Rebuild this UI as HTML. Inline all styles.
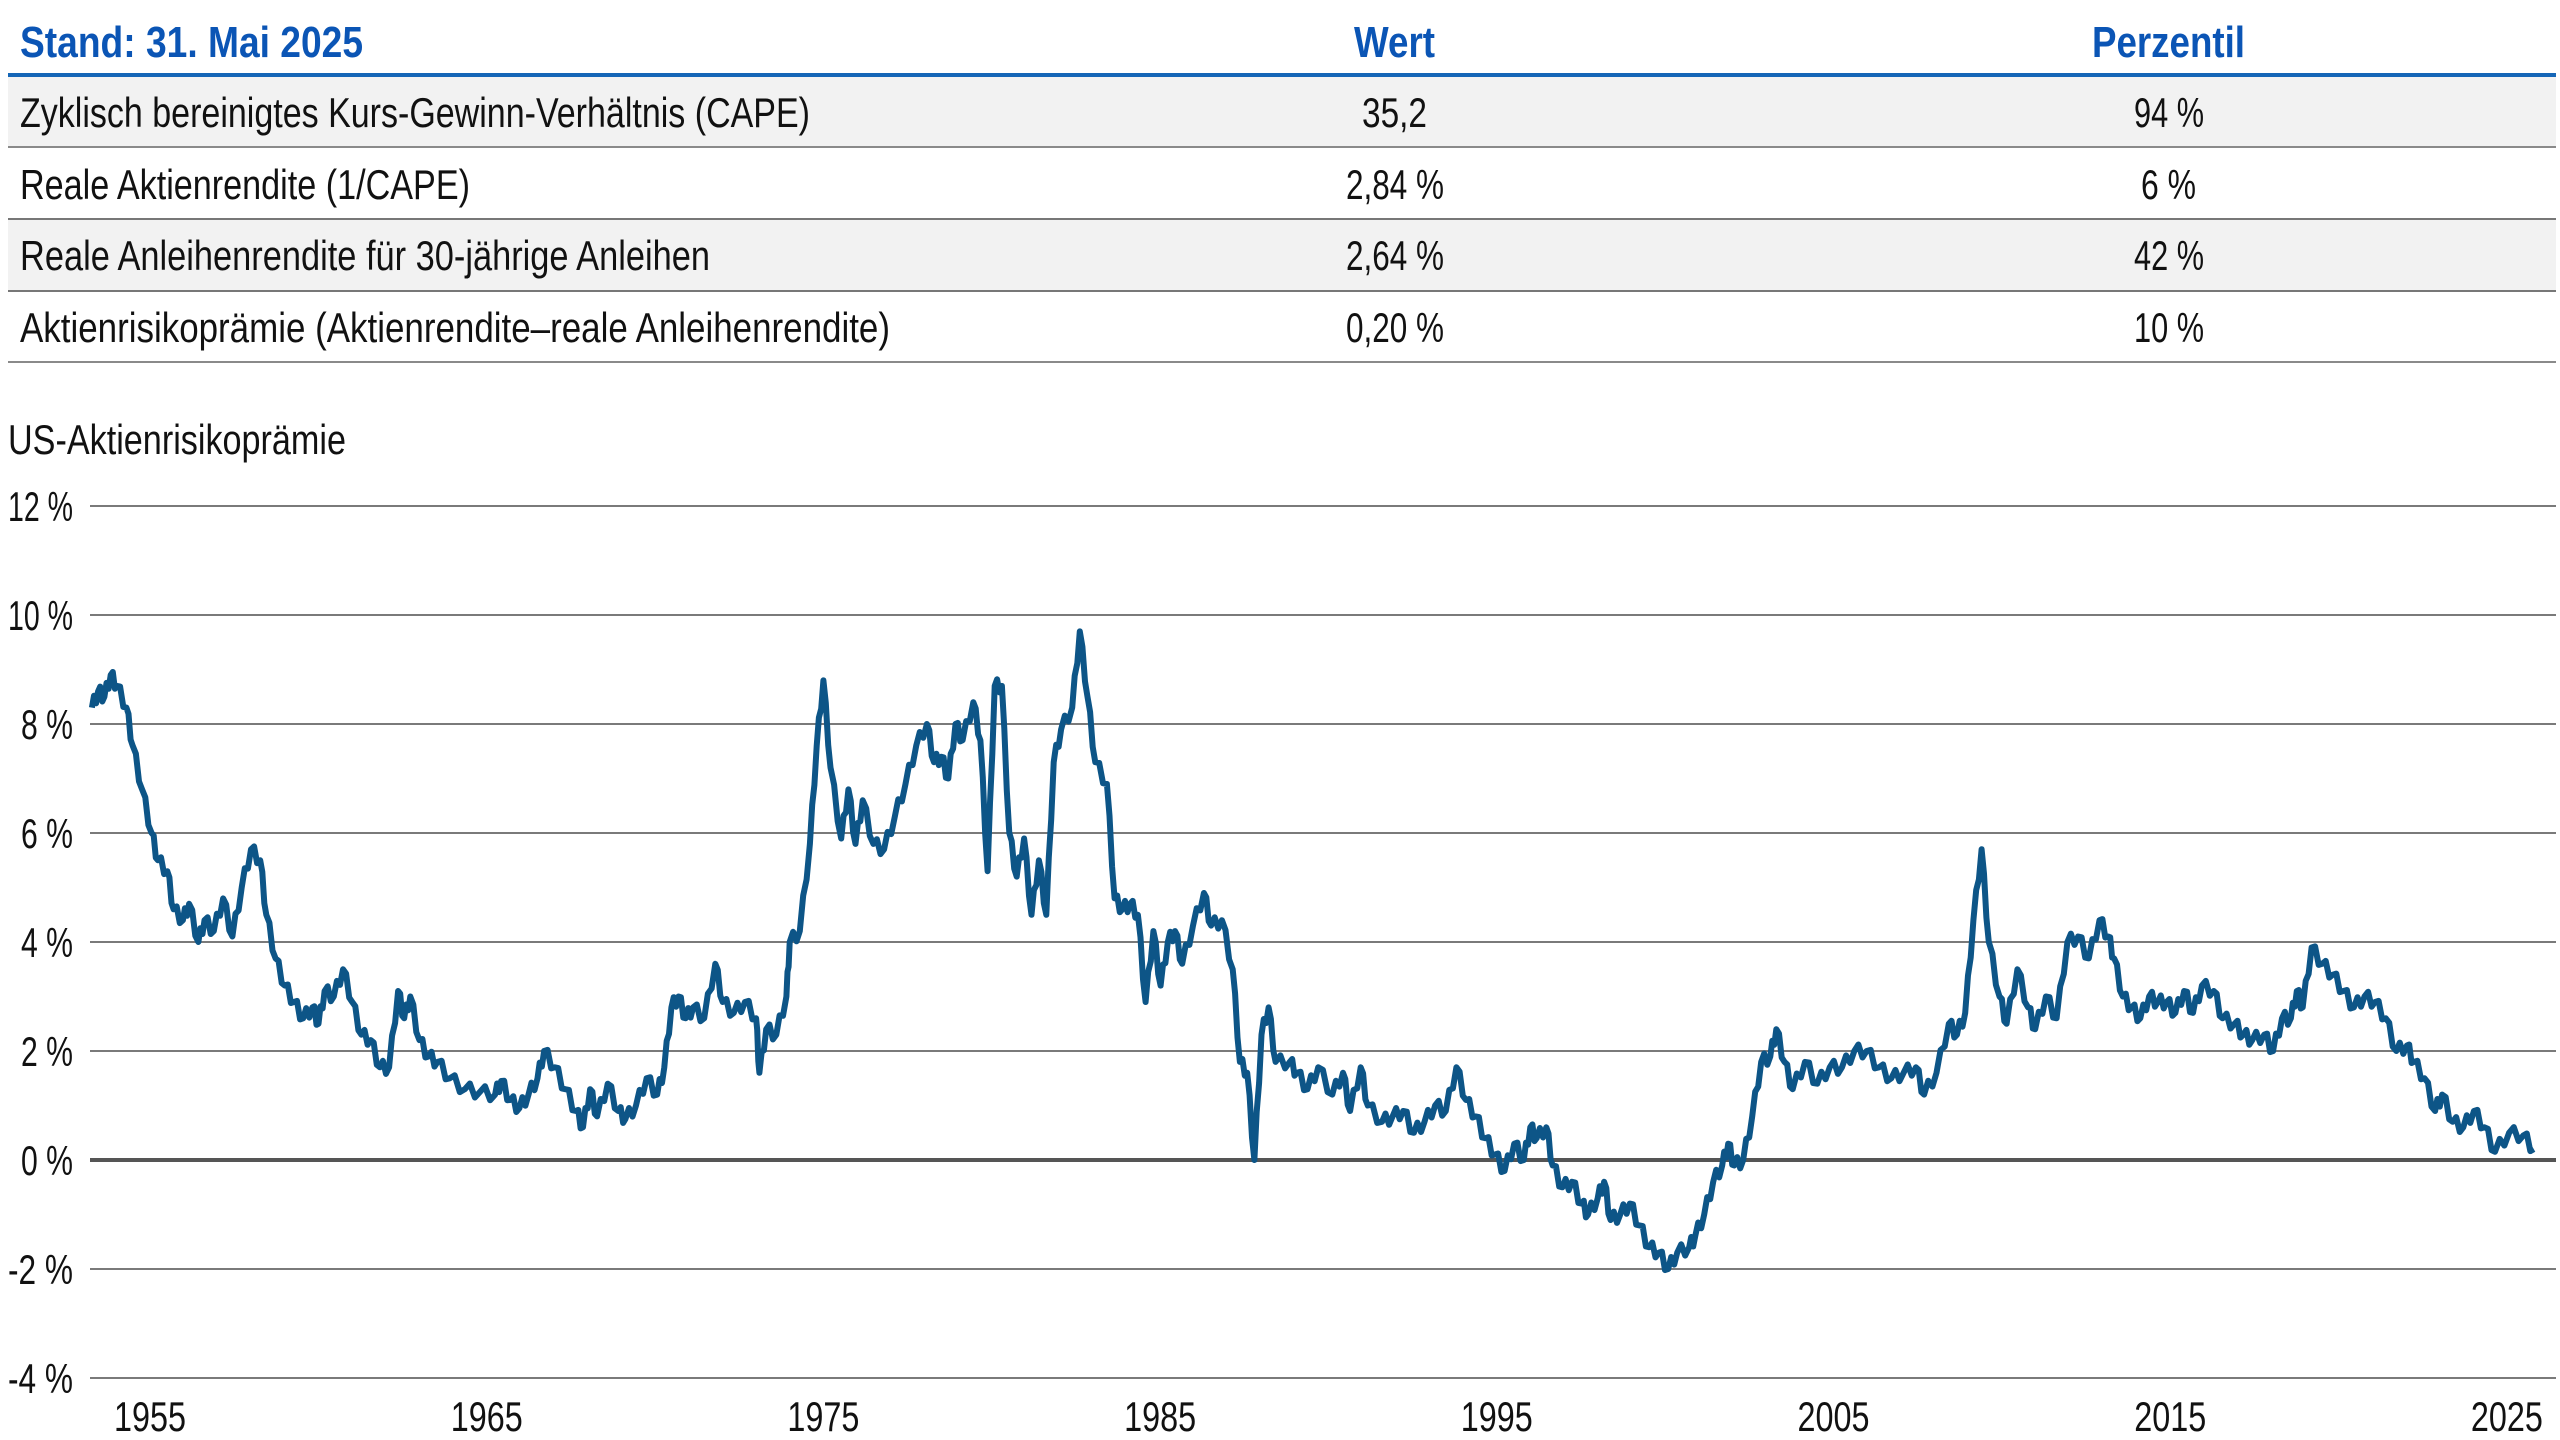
<!DOCTYPE html>
<html><head><meta charset="utf-8"><style>
html,body{margin:0;padding:0;background:#fff;width:2560px;height:1440px;overflow:hidden}
svg{display:block}
text{font-family:"Liberation Sans",sans-serif;}
</style></head><body>
<svg id="s" width="2560" height="1440" viewBox="0 0 2560 1440" xmlns="http://www.w3.org/2000/svg">
<rect x="8" y="76" width="2548" height="71" fill="#f2f2f2"/>
<rect x="8" y="220" width="2548" height="71" fill="#f2f2f2"/>
<line x1="8" y1="75" x2="2556" y2="75" stroke="#1566b7" stroke-width="4"/>
<line x1="8" y1="147" x2="2556" y2="147" stroke="#8a8a8a" stroke-width="2"/>
<line x1="8" y1="219" x2="2556" y2="219" stroke="#777" stroke-width="2"/>
<line x1="8" y1="291" x2="2556" y2="291" stroke="#777" stroke-width="2"/>
<line x1="8" y1="362" x2="2556" y2="362" stroke="#8a8a8a" stroke-width="2"/>
<g fill="#0b55b5" font-weight="bold" font-size="44">
<text x="20" y="57" textLength="343" lengthAdjust="spacingAndGlyphs">Stand: 31. Mai 2025</text>
<text x="1354" y="57" textLength="81" lengthAdjust="spacingAndGlyphs">Wert</text>
<text x="2092" y="57" textLength="153" lengthAdjust="spacingAndGlyphs">Perzentil</text>
</g>
<g fill="#111" font-size="42">
<text x="20" y="127" textLength="790" lengthAdjust="spacingAndGlyphs">Zyklisch bereinigtes Kurs-Gewinn-Verhältnis (CAPE)</text>
<text x="20" y="199" textLength="450" lengthAdjust="spacingAndGlyphs">Reale Aktienrendite (1/CAPE)</text>
<text x="20" y="270" textLength="690" lengthAdjust="spacingAndGlyphs">Reale Anleihenrendite für 30-jährige Anleihen</text>
<text x="20" y="342" textLength="870" lengthAdjust="spacingAndGlyphs">Aktienrisikoprämie (Aktienrendite–reale Anleihenrendite)</text>
<text x="1362" y="127" textLength="65" lengthAdjust="spacingAndGlyphs">35,2</text>
<text x="1346" y="199" textLength="98" lengthAdjust="spacingAndGlyphs">2,84 %</text>
<text x="1346" y="270" textLength="98" lengthAdjust="spacingAndGlyphs">2,64 %</text>
<text x="1346" y="342" textLength="98" lengthAdjust="spacingAndGlyphs">0,20 %</text>
<text x="2134" y="127" textLength="70" lengthAdjust="spacingAndGlyphs">94 %</text>
<text x="2141" y="199" textLength="55" lengthAdjust="spacingAndGlyphs">6 %</text>
<text x="2134" y="270" textLength="70" lengthAdjust="spacingAndGlyphs">42 %</text>
<text x="2134" y="342" textLength="70" lengthAdjust="spacingAndGlyphs">10 %</text>
<text x="8" y="454" textLength="338" lengthAdjust="spacingAndGlyphs">US-Aktienrisikoprämie</text>
</g>
<g id="grid"></g>
<g id="lab" fill="#111" font-size="42" text-anchor="end"></g>
<g fill="#111" font-size="42" text-anchor="middle" id="xl"></g>
<path id="ln" fill="none" stroke="#0d5587" stroke-width="6" stroke-linejoin="round"/>
</svg>
<script>
var NS="http://www.w3.org/2000/svg";
function Y(v){return 1160-v*54.5;}
function X(y){return 150+(y-1955)*33.67;}
var g=document.getElementById('grid'),lab=document.getElementById('lab'),xl=document.getElementById('xl');
for(var v=-4;v<=12;v+=2){
 var l=document.createElementNS(NS,'line');
 l.setAttribute('x1',90);l.setAttribute('x2',2556);l.setAttribute('y1',Y(v));l.setAttribute('y2',Y(v));
 l.setAttribute('stroke',v==0?'#555':'#7a7a7a');l.setAttribute('stroke-width',v==0?4:2);g.appendChild(l);
 var t=document.createElementNS(NS,'text');t.setAttribute('x',73);t.setAttribute('y',Y(v)+15);
 t.setAttribute('textLength',v>=10||v<0?65:52);t.setAttribute('lengthAdjust','spacingAndGlyphs');
 t.textContent=v+' %';lab.appendChild(t);
}
for(var yr=1955;yr<=2025;yr+=10){
 var t=document.createElementNS(NS,'text');t.setAttribute('x',X(yr));t.setAttribute('y',1431);
 t.setAttribute('textLength',72);t.setAttribute('lengthAdjust','spacingAndGlyphs');t.textContent=yr;xl.appendChild(t);
}
var d=[1953.4,8.3,1953.6,8.6,1953.8,8.5,1954.0,8.9,1954.2,8.7,1954.5,8.3,1954.7,7.6,1955.0,6.8,1955.3,6.0,1955.5,5.5,1955.8,5.3,1956.0,4.6,1956.3,4.4,1956.5,4.7,1956.8,4.0,1957.0,4.4,1957.3,4.2,1957.6,4.8,1957.9,4.1,1958.2,5.0,1958.5,5.7,1958.8,5.5,1959.0,4.5,1959.3,3.7,1959.6,3.2,1959.9,2.9,1960.2,2.6,1960.5,2.8,1960.7,2.5,1960.9,3.1,1961.2,3.0,1961.5,3.5,1961.8,2.9,1962.1,2.3,1962.4,2.2,1962.7,1.7,1963.0,1.7,1963.3,3.1,1963.5,2.6,1963.7,3.0,1964.0,2.2,1964.3,1.9,1964.6,1.8,1965.0,1.5,1965.5,1.3,1966.0,1.25,1966.5,1.2,1966.7,1.45,1967.0,1.1,1967.3,0.95,1967.6,1.2,1967.9,1.5,1968.1,2.0,1968.4,1.7,1968.7,1.3,1969.0,0.9,1969.2,0.6,1969.4,1.3,1969.6,0.8,1969.9,1.4,1970.2,0.9,1970.4,0.75,1970.7,1.0,1971.0,1.5,1971.3,1.2,1971.5,1.7,1971.7,2.8,1971.9,3.0,1972.1,2.6,1972.3,2.8,1972.6,2.6,1972.9,3.6,1973.1,2.9,1973.4,2.7,1973.7,2.9,1974.0,2.6,1974.1,1.6,1974.3,2.4,1974.6,2.3,1974.9,3.0,1975.0,4.0,1975.3,4.2,1975.6,5.8,1975.8,7.6,1976.0,8.8,1976.2,7.2,1976.5,5.9,1976.7,6.8,1976.9,5.8,1977.1,6.6,1977.4,5.8,1977.7,5.7,1978.0,6.3,1978.3,6.9,1978.6,7.6,1978.9,8.0,1979.1,7.3,1979.3,7.4,1979.5,7.0,1979.7,8.0,1979.9,7.7,1980.2,8.4,1980.4,7.7,1980.6,5.3,1980.8,8.7,1981.0,8.7,1981.2,6.0,1981.4,5.2,1981.6,5.9,1981.8,4.5,1982.0,5.5,1982.2,4.5,1982.4,7.3,1982.6,7.9,1982.9,8.3,1983.1,9.7,1983.3,8.5,1983.5,7.3,1983.8,6.9,1984.0,4.8,1984.2,4.6,1984.4,4.7,1984.6,4.5,1984.8,2.9,1985.0,4.2,1985.2,3.2,1985.4,4.0,1985.6,4.2,1985.8,3.6,1986.1,4.3,1986.4,4.9,1986.6,4.3,1986.9,4.4,1987.2,3.5,1987.4,1.8,1987.6,1.6,1987.8,0.0,1988.0,2.3,1988.2,2.8,1988.4,1.8,1988.8,1.8,1989.0,1.6,1989.3,1.3,1989.6,1.7,1990.0,1.2,1990.3,1.6,1990.5,0.9,1990.8,1.7,1991.0,1.0,1991.4,0.7,1991.7,0.8,1992.0,0.9,1992.3,0.5,1992.6,0.7,1992.9,1.0,1993.2,0.9,1993.5,1.7,1993.8,1.1,1994.1,0.8,1994.4,0.4,1994.7,0.1,1995.0,-0.2,1995.3,0.3,1995.6,0.0,1995.8,0.6,1996.0,0.4,1996.3,0.6,1996.5,-0.1,1996.8,-0.5,1997.1,-0.4,1997.4,-0.8,1997.6,-1.0,1997.9,-0.7,1998.1,-0.4,1998.3,-1.1,1998.6,-1.0,1998.9,-0.8,1999.2,-1.2,1999.5,-1.6,1999.8,-1.7,2000.1,-2.0,2000.4,-1.7,2000.8,-1.6,2001.0,-1.4,2001.3,-1.0,2001.6,-0.4,2001.9,-0.1,2002.1,0.3,2002.3,-0.1,2002.6,0.0,2002.9,0.8,2003.2,1.8,2003.5,1.9,2003.7,2.4,2003.9,1.8,2004.1,1.3,2004.4,1.8,2004.7,1.4,2005.0,1.7,2005.3,1.7,2005.6,2.0,2005.9,2.0,2006.2,1.7,2006.5,1.5,2006.8,1.6,2007.1,1.7,2007.3,1.2,2007.6,1.6,2007.9,2.5,2008.1,2.3,2008.3,2.7,2008.5,4.4,2008.7,5.7,2008.9,4.0,2009.2,3.0,2009.4,2.5,2009.7,3.5,2010.0,2.8,2010.2,2.4,2010.5,3.0,2010.8,2.6,2011.1,4.0,2011.4,4.1,2011.7,3.7,2012.0,4.4,2012.3,4.1,2012.5,3.7,2012.8,3.0,2013.1,2.8,2013.4,2.6,2013.7,3.0,2014.0,2.9,2014.3,2.9,2014.6,2.7,2014.9,3.1,2015.2,2.7,2015.5,3.2,2015.9,3.1,2016.2,2.6,2016.6,2.5,2016.9,2.3,2017.2,2.2,2017.6,2.3,2017.9,2.0,2018.2,2.6,2018.5,2.6,2018.7,3.1,2018.9,2.8,2019.2,3.9,2019.5,3.6,2019.8,3.4,2020.1,3.1,2020.4,2.8,2020.7,3.0,2021.0,2.9,2021.3,2.6,2021.6,2.0,2021.9,2.1,2022.1,1.8,2022.4,1.5,2022.7,0.9,2022.9,1.2,2023.2,0.7,2023.5,0.6,2023.8,0.9,2024.1,0.6,2024.4,0.15,2024.8,0.5,2025.2,0.45,2025.5,0.2];
var S=[1953,-0.1,1956,-0.3,1958.5,-0.5,1963,-0.9,1968,-1.4,1972,-1.2,1974,-1.0,1976,-1.0,1981,-0.7,1983,-0.5,1985,-0.2,1987.8,0,1993.5,0.3,2000,0,2003.7,-0.4,2008.7,0.7,2012,0.9,2015,0.5,2019.2,0,2025.5,0.3];
function sh(t){for(var i=0;i<S.length-2;i+=2){if(t<=S[i+2]){var f=(t-S[i])/(S[i+2]-S[i]);if(f<0)f=0;return S[i+1]+f*(S[i+3]-S[i+1]);}}return S[S.length-1];}
var p='',pt=[];
for(var i=0;i<d.length;i+=2){pt.push([d[i]+sh(d[i]),d[i+1]]);}
for(var i=0;i<pt.length;i++){
 p+=(i?'L':'M')+X(pt[i][0]).toFixed(1)+' '+Y(pt[i][1]).toFixed(1);
 if(i<pt.length-1){var a=pt[i],b=pt[i+1];
  for(var k=1;k<3;k++){var f=k/3;var yy=a[1]+(b[1]-a[1])*f+((k%2)?0.12:-0.12);
   p+='L'+X(a[0]+(b[0]-a[0])*f).toFixed(1)+' '+Y(yy).toFixed(1);}}
}
document.getElementById('ln').setAttribute('d',p);
</script>
</body></html>
